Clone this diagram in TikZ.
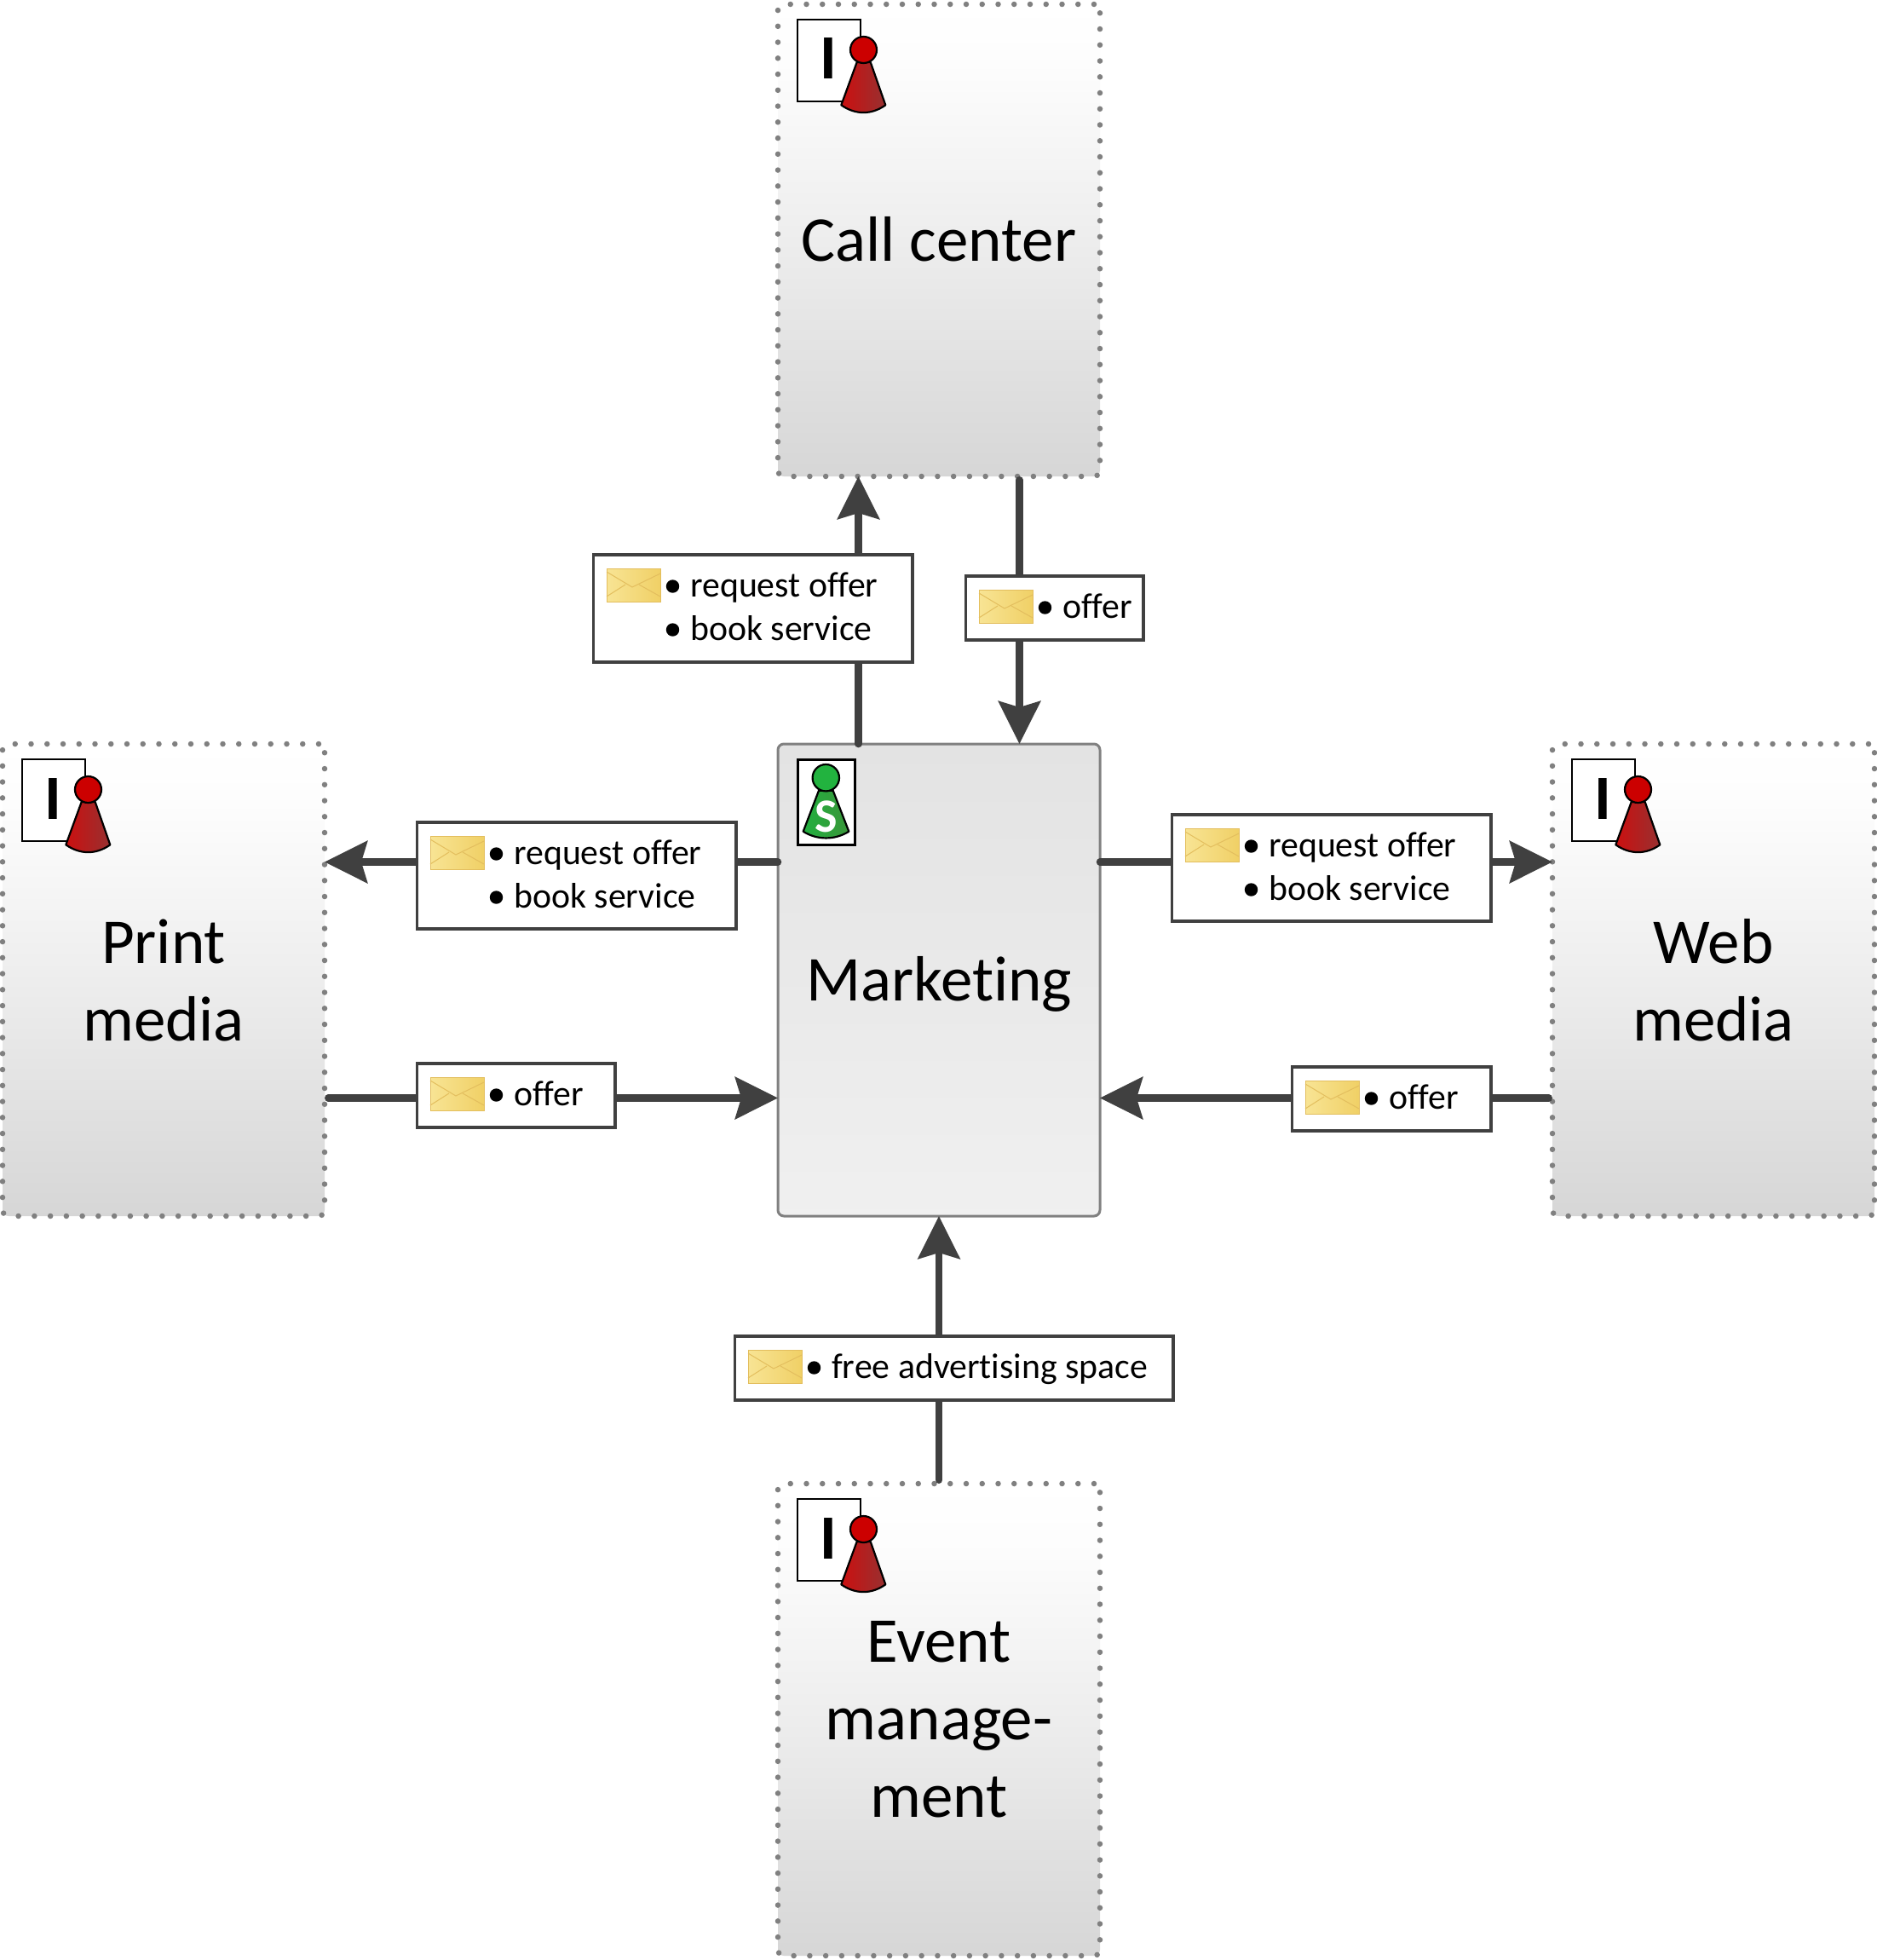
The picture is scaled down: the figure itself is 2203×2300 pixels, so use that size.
\documentclass[tikz,border=0pt]{standalone}
\usepackage{fontspec}
\setmainfont[Ligatures=NoCommon]{Carlito}
\usetikzlibrary{arrows.meta,calc}
\definecolor{conn}{HTML}{404040}
\definecolor{dotc}{HTML}{808080}
\definecolor{envlo}{HTML}{F0D066}
\definecolor{envhi}{HTML}{F8E494}
\definecolor{envln}{HTML}{E3BE5E}
\definecolor{redtop}{HTML}{CC0000}
\definecolor{redlo}{HTML}{CC1010}
\definecolor{redhi}{HTML}{983030}
\definecolor{grntop}{HTML}{22B33F}
\definecolor{grnlo}{HTML}{22AF3F}
\definecolor{grnhi}{HTML}{3A963A}
\pgfdeclareverticalshading{rolegrad}{100bp}{color(0bp)=(black!16); color(25bp)=(black!16); color(50bp)=(black!7); color(68bp)=(black!1); color(75bp)=(white); color(100bp)=(white)}
\pgfdeclareverticalshading{mktgrad}{100bp}{color(0bp)=(black!6); color(25bp)=(black!6); color(75bp)=(black!11); color(100bp)=(black!11)}
\tikzset{
  rolebox/.style={rectangle,rounded corners=7pt,minimum width=378pt,minimum height=554pt,inner sep=0pt,outer sep=0pt,align=center,
    draw=dotc,line width=6.5pt,line cap=round,dash pattern=on 0pt off 18.75pt,shading=rolegrad,
    font=\fontsize{75}{91}\selectfont},
  mktbox/.style={rectangle,rounded corners=7pt,minimum width=378pt,minimum height=554pt,inner sep=0pt,outer sep=0pt,align=center,
    draw=dotc,line width=3pt,shading=mktgrad,font=\fontsize{75}{91}\selectfont},
  conn/.style={draw=conn,line width=8.5pt,line cap=round,-{Stealth[length=50pt,width=49pt,inset=7pt]}},
  fromrole/.style={conn,shorten <=4.25pt},
  msg/.style={rectangle,draw=conn,line width=3.5pt,fill=white,inner sep=0pt,outer sep=0pt,anchor=north west},
  lbl/.style={anchor=base west,inner sep=0pt,font=\fontsize{41.8}{41.8}\selectfont},
  lineI/.style={anchor=center,inner sep=0pt,font=\fontsize{74}{74}\selectfont\bfseries},
  pics/envelope/.style={code={
    \shade[left color=envhi,right color=envlo,draw=envln,line width=1pt] (0,0) rectangle (63,39);
    \draw[envln,line width=1pt] (0,4) -- (30,22) -- (63,6);
    \draw[envln,line width=1pt] (0,33) -- (22,19) (63,33) -- (38,19);
  }},
  pics/bul/.style={code={\fill[black] (0,0) circle (7.7);}},
  pics/rolemark/.style={code={
    \draw[black,line width=2pt,fill=white] (23,18) rectangle (97,114);
    \node[lineI] (#1I) at (59.5,64) {I};
    \shade[draw=black,line width=2.2pt,line join=round,left color=redlo,right color=redhi]
      (92.7,68) -- (108.7,68) -- (126.3,118.3) .. controls (110,130) and (91,130) .. (74.3,118.3) -- cycle;
    \draw[black,line width=2.2pt,fill=redtop] (100.5,53.5) circle (15.5);
  }},
}
\newcommand{\msgbox}[5]{% name, x1,y1,x2,y2
  \node[msg,minimum width=#4pt-#2pt-1.5pt,minimum height=#5pt-#3pt] (#1) at (#2+1.5,#3) {};
  \pic at ($(#1.north west)+(15.5,16)$) {envelope};
  \pic at ($(#1.north west)+(93,37)$) {bul};
}
\begin{document}
\begin{tikzpicture}[x=1pt,y=-1pt]
\useasboundingbox (0,0) rectangle (2203,2300);
\fill[white] (0,0) rectangle (2203,2300);
% roles
\node[rolebox] (call)  at (1102,282)  {\raisebox{1pt}[\height][\depth]{Call center}};
\node[rolebox] (print) at (192,1150)  {Print\\media};
\node[rolebox] (web)   at (2011,1150) {Web\\media};
\node[rolebox] (event) at (1102,2018) {Event\\manage-\\ment};
\node[mktbox]  (mkt)   at (1102,1150) {\raisebox{-4.5pt}[\height][\depth]{Marketing}};
% marks
\pic at (call.north west) {rolemark=c};
\pic at (print.north west) {rolemark=p};
\pic at (web.north west) {rolemark=w};
\pic at (event.north west) {rolemark=e};
% green mark
\draw[black,line width=3pt,fill=white] ($(mkt.north west)+(23,18)$) coordinate (g) rectangle ($(mkt.north west)+(90,118)$);
\shade[draw=black,line width=2.2pt,line join=round,left color=grnlo,right color=grnhi]
  ($(g)+(25,36.7)$) -- ($(g)+(41.7,36.7)$) -- ($(g)+(60.3,84.7)$) .. controls ($(g)+(44,95)$) and ($(g)+(23,95)$) .. ($(g)+(6.7,84.7)$) -- cycle;
\draw[black,line width=2.2pt,fill=grntop] ($(g)+(33.3,21.7)$) circle (15.7);
\node[inner sep=0pt,text=white,font=\fontsize{56}{56}\selectfont\bfseries] (gs) at ($(g)+(33.3,67)$) {S};
% connectors
\draw[conn] ($(mkt.north west)!.25!(mkt.north east)$) -- ($(call.south west)!.25!(call.south east)$);
\draw[fromrole] ($(call.south west)!.75!(call.south east)$) -- ($(mkt.north west)!.75!(mkt.north east)$);
\draw[conn] ($(mkt.north west)!.25!(mkt.south west)$) -- ($(print.north east)!.25!(print.south east)$);
\draw[fromrole] ($(print.north east)!.75!(print.south east)$) -- ($(mkt.north west)!.75!(mkt.south west)$);
\draw[conn] ($(mkt.north east)!.25!(mkt.south east)$) -- ($(web.north west)!.25!(web.south west)$);
\draw[fromrole] ($(web.north west)!.75!(web.south west)$) -- ($(mkt.north east)!.75!(mkt.south east)$);
\draw[fromrole] (event.north) -- (mkt.south);
% messages
\msgbox{m1}{695}{651}{1071}{777}
\node[lbl] (m1a) at ($(m1.north west)+(113.5,49)$) {request offer};
\pic at ($(m1.north west)+(93,88)$) {bul};
\node[lbl] (m1b) at ($(m1.north west)+(113.5,100.5)$) {book service};
\msgbox{m2}{1132}{676}{1342}{751}
\node[lbl] (m2a) at ($(m2.north west)+(113.5,49)$) {offer};
\msgbox{m3}{488}{965}{864}{1090}
\node[lbl] (m3a) at ($(m3.north west)+(113.5,49)$) {request offer};
\pic at ($(m3.north west)+(93,88)$) {bul};
\node[lbl] (m3b) at ($(m3.north west)+(113.5,100.5)$) {book service};
\msgbox{m4}{488}{1248}{722}{1323}
\node[lbl] (m4a) at ($(m4.north west)+(113.5,49)$) {offer};
\msgbox{m5}{1374}{956}{1750}{1081}
\node[lbl] (m5a) at ($(m5.north west)+(113.5,49)$) {request offer};
\pic at ($(m5.north west)+(93,88)$) {bul};
\node[lbl] (m5b) at ($(m5.north west)+(113.5,100.5)$) {book service};
\msgbox{m6}{1515}{1252}{1750}{1327}
\node[lbl] (m6a) at ($(m6.north west)+(113.5,49)$) {offer};
\msgbox{m7}{861}{1568}{1377}{1643}
\node[lbl] (m7a) at ($(m7.north west)+(113.5,49)$) {free advertising space};
\end{tikzpicture}
\end{document}
